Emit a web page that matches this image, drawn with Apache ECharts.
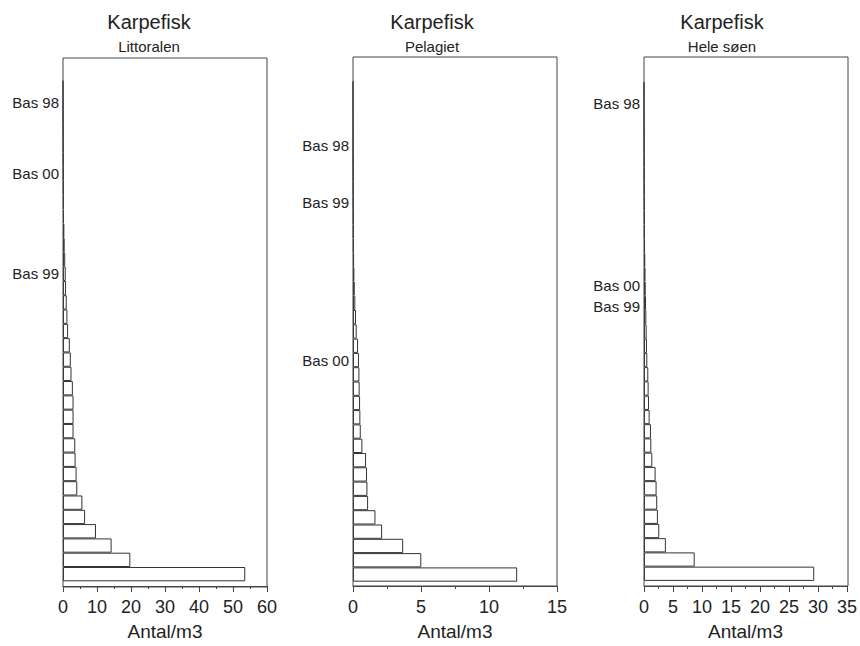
<!DOCTYPE html>
<html>
<head>
<meta charset="utf-8">
<script src="https://cdn.jsdelivr.net/npm/echarts@6/dist/echarts.min.js"></script>
<style>
html,body{margin:0;padding:0;background:#fff;}
#chart{width:860px;height:646px;}
</style>
</head>
<body>
<div id="chart"></div>
<script>
// Panel titles
const mainTitle = 'Karpefisk';
const subTitles = ['Littoralen', 'Pelagiet', 'Hele søen'];
const axisName = 'Antal/m3';

// Bar values, from the bottom (rank 0) upwards
const littoralen = [53.6, 19.8, 14.3, 9.7, 6.5, 5.7, 4.2, 4.0, 3.7, 3.6, 3.1, 3.1, 3.1, 2.9, 2.5, 2.3, 2.0, 1.5, 1.3, 1.1,
  0.9, 0.8, 0.65, 0.5, 0.4, 0.3, 0.25, 0.2, 0.15, 0.12, 0.09, 0.07, 0.05, 0.03, 0.02];
const pelagiet = [12.07, 5.02, 3.69, 2.14, 1.65, 1.11, 1.06, 1.03, 0.96, 0.69, 0.57, 0.54, 0.52, 0.49, 0.47, 0.44, 0.37, 0.27, 0.22, 0.17,
  0.13, 0.1, 0.08, 0.06, 0.05, 0.04, 0.03, 0.025, 0.02, 0.015, 0.01, 0.01, 0.008, 0.006, 0.005];
const heleSoen = [29.35, 8.74, 3.77, 2.63, 2.40, 2.28, 2.17, 2.0, 1.43, 1.26, 1.2, 0.97, 0.86, 0.8, 0.74, 0.57, 0.51, 0.46, 0.4, 0.35,
  0.3, 0.26, 0.22, 0.18, 0.15, 0.12, 0.1, 0.08, 0.06, 0.05, 0.04, 0.03, 0.02, 0.015, 0.01];

// Basin labels and the rank (category slot from the bottom) where each sits
const labelNames1 = ['Bas 98', 'Bas 00', 'Bas 99'];
const labelRanks1 = [33, 28, 21];
const labelNames2 = ['Bas 98', 'Bas 99', 'Bas 00'];
const labelRanks2 = [30, 26, 15];
const labelNames3 = ['Bas 98', 'Bas 00', 'Bas 99'];
const labelRanks3 = [33, 20, 19];
const slotCount = 37;

// X-axis scales
const xMax = [60, 15, 35];
const xInterval = [10, 5, 5];

const panels = [
  {data: littoralen, names: labelNames1, ranks: labelRanks1},
  {data: pelagiet, names: labelNames2, ranks: labelRanks2},
  {data: heleSoen, names: labelNames3, ranks: labelRanks3}
];

const FONT = '"Liberation Sans", Arial, Helvetica, sans-serif';
const TXT = '#222';
const LINE = '#444';
const frameLeft = [63, 353, 644];
const frameTop = [58, 57, 57];
const frameBottom = [587, 586, 586];
const barBottom = [582.3, 581.7, 580.9];
const band = [14.33, 14.3, 14.25];
const titleX = [149, 432, 722];

const option = {
  backgroundColor: '#fff',
  animation: false,
  grid: [], xAxis: [], yAxis: [], series: [], graphic: []
};

panels.forEach((p, i) => {
  const h = slotCount * band[i];
  // bar grid
  option.grid.push({
    left: frameLeft[i], top: barBottom[i] - h, width: 204, height: h, show: false
  });
  option.xAxis.push({
    type: 'value', gridIndex: i, min: 0, max: xMax[i], interval: xInterval[i],
    offset: frameBottom[i] - barBottom[i],
    name: axisName, nameLocation: 'middle', nameGap: 36,
    nameTextStyle: {fontSize: 19, color: TXT, fontFamily: FONT},
    axisLine: {show: true, lineStyle: {color: LINE, width: 1}},
    axisTick: {show: true, length: 6, lineStyle: {color: LINE}},
    minorTick: {show: true, splitNumber: 2, length: 3, lineStyle: {color: LINE}},
    splitLine: {show: false}, minorSplitLine: {show: false},
    axisLabel: {fontSize: 18, color: TXT, fontFamily: FONT, margin: 12}
  });
  const cats = [];
  for (let k = 0; k < slotCount; k++) cats.push('');
  p.ranks.forEach((r, k) => { cats[r] = p.names[k]; });
  option.yAxis.push({
    type: 'category', gridIndex: i, data: cats,
    axisLine: {show: false}, axisTick: {show: false}, splitLine: {show: false},
    axisLabel: {
      interval: 0, fontSize: 15, color: TXT, fontFamily: FONT, margin: 4,
      formatter: (v, idx) => {
        if (!v) return '';
        // labels on adjacent slots are nudged apart a little so they do not collide
        if (cats[idx + 1]) return '{dn|' + v + '}';
        if (cats[idx - 1]) return '{up|' + v + '}';
        return '{n|' + v + '}';
      },
      rich: {
        n: {fontSize: 15, color: TXT, fontFamily: FONT},
        up: {fontSize: 15, color: TXT, fontFamily: FONT, padding: [0, 0, 6, 0]},
        dn: {fontSize: 15, color: TXT, fontFamily: FONT, padding: [6, 0, 0, 0]}
      }
    }
  });
  option.series.push({
    type: 'bar', xAxisIndex: i, yAxisIndex: i,
    data: p.data,
    barCategoryGap: '0%',
    itemStyle: {color: '#fff', borderColor: '#333', borderWidth: 1},
    silent: true
  });
  option.graphic.push({
    type: 'text', x: titleX[i], y: 22,
    style: {text: mainTitle, align: 'center', verticalAlign: 'middle', fontSize: 20, fontFamily: FONT, fill: TXT}
  });
  option.graphic.push({
    type: 'text', x: titleX[i], y: 46,
    style: {text: subTitles[i], align: 'center', verticalAlign: 'middle', fontSize: 15, fontFamily: FONT, fill: TXT}
  });
});

// frame grids (box round each panel)
panels.forEach((p, i) => {
  const gi = option.grid.length;
  option.grid.push({
    left: frameLeft[i], top: frameTop[i], width: 204, height: frameBottom[i] - frameTop[i],
    show: true, borderColor: LINE, borderWidth: 1, backgroundColor: 'transparent', z: 5
  });
  option.xAxis.push({type: 'value', gridIndex: gi, show: false, min: 0, max: 1});
  option.yAxis.push({type: 'value', gridIndex: gi, show: false, min: 0, max: 1});
});

const chart = echarts.init(document.getElementById('chart'), null, {renderer: 'svg', width: 860, height: 646});
chart.setOption(option);
</script>
</body>
</html>
